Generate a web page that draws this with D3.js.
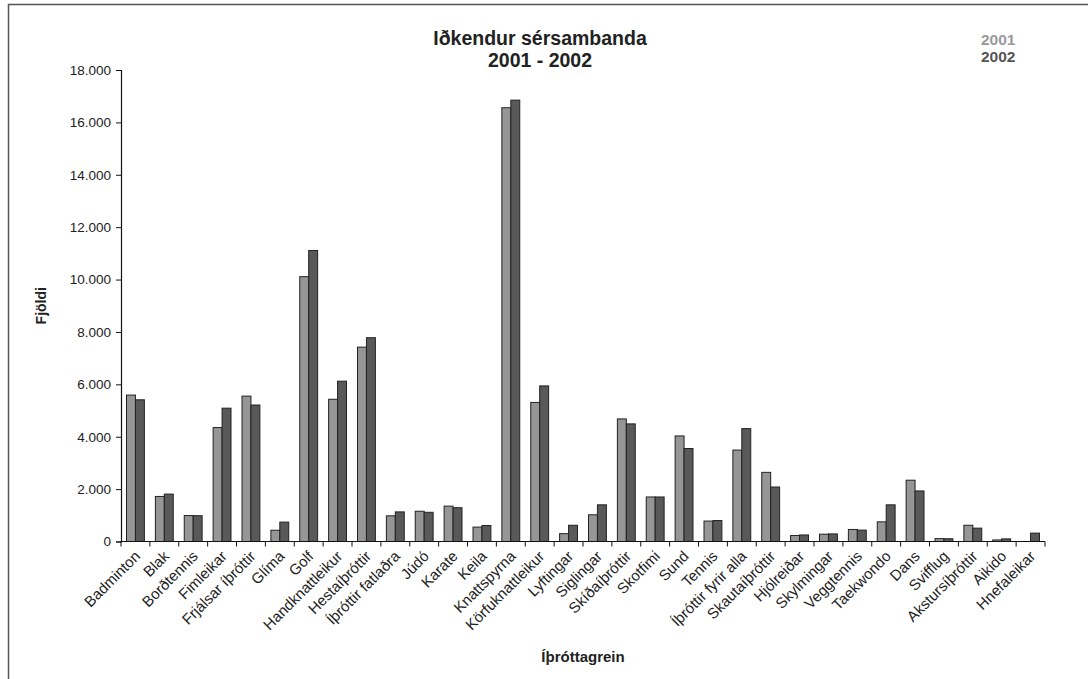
<!DOCTYPE html>
<html>
<head>
<meta charset="utf-8">
<script src="https://cdn.jsdelivr.net/npm/d3@7"></script>
<style>
  body { margin: 0; background: #fff; }
  svg text { font-family: "Liberation Sans", Arial, sans-serif; }
</style>
</head>
<body>
<svg id="canvas"></svg>
<script>
let greinar = ['Badminton', 'Blak', 'Borðtennis', 'Fimleikar', 'Frjálsar íþróttir', 'Glíma', 'Golf',
    'Handknattleikur', 'Hestaíþróttir', 'Íþróttir fatlaðra', 'Júdó', 'Karate', 'Keila', 'Knattspyrna',
    'Körfuknattleikur', 'Lyftingar', 'Siglingar', 'Skíðaíþróttir', 'Skotfimi', 'Sund', 'Tennis',
    'Íþróttir fyrir alla', 'Skautaíþróttir', 'Hjólreiðar', 'Skylmingar', 'Veggtennis', 'Taekwondo',
    'Dans', 'Svifflug', 'Akstursíþróttir', 'Aikido', 'Hnefaleikar'];

let ar2001 = [5590, 1720, 990, 4350, 5550, 430, 10110, 5430, 7420, 980, 1155, 1350, 550, 16560,
    5310, 300, 1020, 4680, 1700, 4030, 780, 3490, 2640, 230, 280, 460, 750, 2340, 110, 620, 60, 0];
let ar2002 = [5410, 1810, 985, 5090, 5210, 740, 11110, 6120, 7780, 1130, 1115, 1290, 610, 16850,
    5940, 620, 1400, 4490, 1700, 3550, 800, 4310, 2080, 250, 290, 435, 1400, 1930, 105, 510, 100, 320];

let yTicks = [0, 2000, 4000, 6000, 8000, 10000, 12000, 14000, 16000, 18000];
let ar = ['2001', '2002'];
let litir = ['#969696', '#595959'];

let width = 1088;
let height = 679;
let plotLeft = 121, plotRight = 1045, plotTop = 70, plotBottom = 541.5;

let canvas = d3.select('#canvas').attr('width', width).attr('height', height);

let locale = d3.formatLocale({ decimal: ',', thousands: '.', grouping: [3], currency: ['', ''] });
let fmt = locale.format(',');

let xScale = d3.scaleBand().domain(greinar).range([plotLeft, plotRight]);
let subScale = d3.scaleBand().domain(ar).range([5, xScale.bandwidth() - 6]).padding(0);
let yScale = d3.scaleLinear().domain([0, 18000]).range([plotBottom, plotTop]);

// ramminn (aðeins efri og vinstri lína sjást)
canvas.append('path')
      .attr('d', 'M8.5,' + height + ' V4.5 H' + width)
      .attr('fill', 'none')
      .attr('stroke', '#555')
      .attr('stroke-width', 1.5);

let rows = greinar.map((g, i) => ({ grein: g, values: [ar2001[i], ar2002[i]] }));

let groups = canvas.selectAll('g.grein')
    .data(rows)
    .enter()
    .append('g')
    .attr('class', 'grein')
    .attr('transform', (d) => 'translate(' + xScale(d.grein) + ',0)');

groups.selectAll('rect')
      .data((d) => d.values.map((v, j) => ({ ar: ar[j], v: v, j: j })).filter((e) => e.v > 0))
      .enter()
      .append('rect')
      .attr('x', (e) => subScale(e.ar) + 0.5)
      .attr('width', subScale.bandwidth())
      .attr('y', (e) => yScale(e.v))
      .attr('height', (e) => plotBottom - yScale(e.v))
      .attr('fill', (e) => litir[e.j])
      .attr('stroke', '#222')
      .attr('stroke-width', 1);

// y ás
let yAxis = d3.axisLeft(yScale).tickValues(yTicks).tickFormat(fmt).tickSize(5).tickPadding(5);
let yg = canvas.append('g')
      .attr('transform', 'translate(' + plotLeft + ',0)')
      .call(yAxis);
yg.select('.domain').attr('stroke', '#111').attr('stroke-width', 1.2);
yg.selectAll('.tick line').attr('stroke', '#111');
yg.selectAll('.tick text').attr('font-size', 13.5).attr('fill', '#222')
  .style('font-family', '"Liberation Sans", Arial, sans-serif');

// x ás
let xg = canvas.append('g').attr('transform', 'translate(0,' + plotBottom + ')');
xg.append('line').attr('x1', plotLeft).attr('x2', plotRight).attr('stroke', '#111').attr('stroke-width', 1.2);
let tickPos = greinar.map((g) => xScale(g)).concat([plotRight]);
xg.selectAll('line.tk')
  .data(tickPos)
  .enter()
  .append('line')
  .attr('class', 'tk')
  .attr('x1', (d) => d).attr('x2', (d) => d)
  .attr('y1', 0).attr('y2', 5)
  .attr('stroke', '#111');
xg.selectAll('text')
  .data(greinar)
  .enter()
  .append('text')
  .attr('transform', (g) => 'translate(' + (xScale(g) + xScale.bandwidth() / 2 + 2) + ',12) rotate(-45)')
  .attr('text-anchor', 'end')
  .attr('dy', '0.35em')
  .attr('font-size', 15)
  .attr('fill', '#222')
  .text((g) => g);

// titlar
canvas.append('text').attr('x', 540).attr('y', 45).attr('text-anchor', 'middle')
      .attr('font-size', 19.5).attr('font-weight', 'bold').attr('fill', '#222')
      .text('Iðkendur sérsambanda');
canvas.append('text').attr('x', 540).attr('y', 67).attr('text-anchor', 'middle')
      .attr('font-size', 19.5).attr('font-weight', 'bold').attr('fill', '#222')
      .text('2001 - 2002');

canvas.append('text')
      .attr('transform', 'translate(46,' + ((plotTop + plotBottom) / 2) + ') rotate(-90)')
      .attr('text-anchor', 'middle')
      .attr('font-size', 14).attr('font-weight', 'bold').attr('fill', '#222')
      .text('Fjöldi');

canvas.append('text').attr('x', 583).attr('y', 662).attr('text-anchor', 'middle')
      .attr('font-size', 15).attr('font-weight', 'bold').attr('fill', '#222')
      .text('Íþróttagrein');

// skýringar
canvas.selectAll('text.leg')
      .data(ar)
      .enter()
      .append('text')
      .attr('class', 'leg')
      .attr('x', 981)
      .attr('y', (d, i) => 45 + i * 17)
      .attr('font-size', 15.5).attr('font-weight', 'bold')
      .attr('fill', (d, i) => i === 0 ? '#999' : '#555')
      .text((d) => d);
</script>
</body>
</html>
